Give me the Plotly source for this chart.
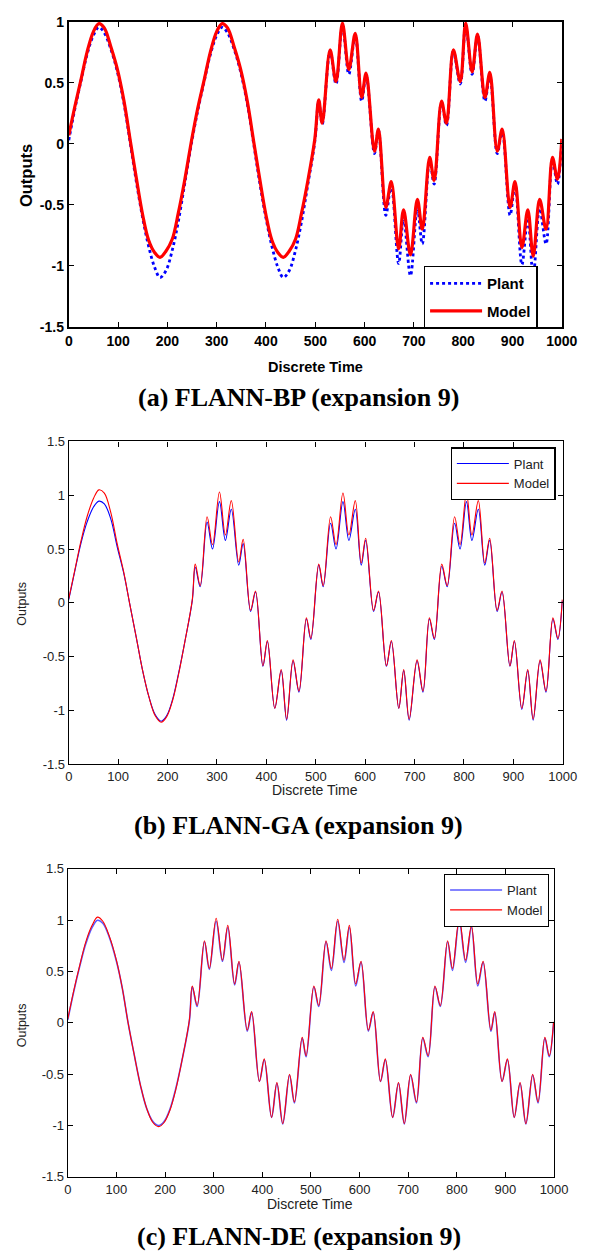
import plotly.graph_objects as go

# ---------------- data ----------------
t_bp = [0, 12, 25, 37, 50, 61, 72, 85, 98, 112, 125, 137, 150, 162, 174, 185, 197, 210, 222, 235,
        250, 262, 275, 287, 300, 311, 322, 335, 348, 362, 375, 387, 400, 412, 424, 435, 447, 460, 472, 485,
        499, 507, 514, 530, 542, 555, 568, 581, 594, 603, 620, 628, 643, 654, 669, 679, 693, 707, 717, 732,
        741, 756, 766, 780, 794, 805, 818, 829, 844, 854, 869, 879, 895, 905, 919, 931, 942, 955, 968, 981,
        991, 1000]
plant_bp = [0.03, 0.28, 0.52, 0.73, 0.89, 0.955, 0.91, 0.78, 0.60, 0.33, 0.0, -0.31, -0.61, -0.84, -1.01, -1.095, -1.04, -0.87, -0.64, -0.33,
            0.03, 0.28, 0.52, 0.73, 0.89, 0.955, 0.91, 0.78, 0.60, 0.33, 0.0, -0.31, -0.61, -0.84, -1.01, -1.095, -1.04, -0.87, -0.64, -0.33,
            0.02, 0.35, 0.16, 0.76, 0.49, 0.97, 0.57, 0.89, 0.35, 0.56, -0.08, 0.11, -0.585, -0.34, -0.98, -0.61, -1.08, -0.53, -0.82, -0.13,
            -0.33, 0.34, 0.15, 0.76, 0.49, 0.97, 0.57, 0.89, 0.35, 0.56, -0.08, 0.11, -0.585, -0.34, -0.99, -0.61, -1.08, -0.53, -0.82, -0.13,
            -0.33, 0.02]
model_bp = [0.07, 0.30, 0.53, 0.75, 0.92, 0.985, 0.95, 0.80, 0.62, 0.35, 0.02, -0.28, -0.585, -0.79, -0.89, -0.93, -0.88, -0.78, -0.57, -0.30,
            0.05, 0.30, 0.53, 0.75, 0.92, 0.985, 0.95, 0.80, 0.62, 0.35, 0.02, -0.28, -0.585, -0.79, -0.89, -0.93, -0.88, -0.78, -0.57, -0.30,
            0.04, 0.36, 0.17, 0.77, 0.51, 0.99, 0.61, 0.905, 0.38, 0.58, -0.06, 0.12, -0.52, -0.31, -0.86, -0.54, -0.91, -0.455, -0.70, -0.11,
            -0.30, 0.35, 0.17, 0.77, 0.51, 0.99, 0.59, 0.90, 0.38, 0.585, -0.06, 0.12, -0.52, -0.31, -0.85, -0.54, -0.92, -0.455, -0.70, -0.11,
            -0.29, 0.04]

t_ga = [0, 12, 25, 37, 50, 61, 72, 85, 98, 112, 123, 137, 150, 162, 175, 187, 198, 210, 222, 235, 250,
        256, 266, 280, 291, 305, 317, 329, 344, 353, 368, 378, 393, 402, 417, 430, 441, 454, 466, 481, 490,
        506, 515, 530, 541, 555, 567, 580, 592, 601, 617, 627, 643, 653, 668, 678, 689, 705, 717, 730, 740,
        755, 766, 781, 792, 805, 816, 829, 842, 852, 867, 877, 893, 902, 917, 929, 940, 954, 966, 980, 990,
        999]
plant_ga = [0.03, 0.29, 0.56, 0.75, 0.89, 0.945, 0.92, 0.78, 0.52, 0.26, 0.0, -0.33, -0.64, -0.87, -1.04, -1.10, -1.05, -0.90, -0.66, -0.36, 0.02,
            0.33, 0.15, 0.75, 0.50, 0.94, 0.58, 0.87, 0.35, 0.55, -0.08, 0.10, -0.59, -0.36, -0.98, -0.63, -1.09, -0.54, -0.83, -0.15, -0.34,
            0.35, 0.15, 0.74, 0.50, 0.94, 0.58, 0.87, 0.35, 0.58, -0.08, 0.10, -0.59, -0.36, -0.98, -0.63, -1.09, -0.54, -0.83, -0.15, -0.34,
            0.34, 0.15, 0.74, 0.50, 0.94, 0.58, 0.87, 0.35, 0.58, -0.08, 0.10, -0.59, -0.36, -0.99, -0.63, -1.09, -0.54, -0.83, -0.15, -0.34,
            0.02]
model_ga = [0.04, 0.30, 0.58, 0.80, 0.97, 1.05, 1.02, 0.84, 0.55, 0.27, 0.0, -0.33, -0.64, -0.87, -1.05, -1.11, -1.06, -0.91, -0.67, -0.36, 0.03,
            0.36, 0.16, 0.80, 0.54, 1.03, 0.63, 0.95, 0.38, 0.59, -0.07, 0.11, -0.585, -0.35, -0.98, -0.62, -1.08, -0.53, -0.82, -0.14, -0.33,
            0.36, 0.16, 0.80, 0.54, 1.02, 0.63, 0.95, 0.37, 0.60, -0.07, 0.11, -0.585, -0.35, -0.98, -0.62, -1.08, -0.53, -0.82, -0.14, -0.33,
            0.36, 0.16, 0.80, 0.54, 1.02, 0.63, 0.95, 0.37, 0.60, -0.07, 0.11, -0.585, -0.35, -0.98, -0.62, -1.08, -0.53, -0.82, -0.14, -0.33,
            0.03]

t_de = [0, 12, 25, 37, 50, 61, 72, 85, 100, 112, 124, 137, 150, 162, 175, 187, 198, 210, 222, 235, 250,
        256, 266, 281, 291, 305, 318, 329, 343, 352, 369, 378, 394, 404, 419, 430, 442, 456, 466, 482, 490,
        506, 516, 531, 542, 555, 568, 579, 592, 603, 618, 628, 643, 653, 668, 680, 692, 705, 717, 730, 741,
        755, 766, 781, 791, 805, 818, 830, 843, 854, 870, 878, 893, 904, 918, 930, 942, 956, 967, 981, 990,
        999]
plant_de = [0.03, 0.30, 0.56, 0.77, 0.93, 1.0, 0.97, 0.84, 0.60, 0.34, 0.0, -0.32, -0.62, -0.83, -0.96, -1.0, -0.96, -0.84, -0.64, -0.36, 0.02,
            0.35, 0.16, 0.79, 0.52, 0.99, 0.60, 0.93, 0.37, 0.59, -0.08, 0.10, -0.57, -0.36, -0.92, -0.59, -0.985, -0.51, -0.78, -0.15, -0.33,
            0.35, 0.16, 0.79, 0.51, 0.99, 0.59, 0.93, 0.36, 0.59, -0.08, 0.10, -0.57, -0.36, -0.92, -0.59, -0.985, -0.51, -0.78, -0.15, -0.33,
            0.35, 0.16, 0.79, 0.51, 0.99, 0.59, 0.93, 0.36, 0.59, -0.08, 0.10, -0.57, -0.36, -0.92, -0.59, -0.985, -0.51, -0.78, -0.15, -0.33,
            0.0]
model_de = [0.04, 0.31, 0.57, 0.79, 0.95, 1.03, 0.99, 0.85, 0.61, 0.34, 0.0, -0.32, -0.62, -0.83, -0.97, -1.01, -0.97, -0.85, -0.65, -0.36, 0.03,
            0.36, 0.17, 0.80, 0.53, 1.02, 0.61, 0.95, 0.38, 0.60, -0.07, 0.11, -0.57, -0.35, -0.92, -0.58, -0.98, -0.50, -0.77, -0.14, -0.32,
            0.36, 0.17, 0.80, 0.53, 1.01, 0.61, 0.95, 0.38, 0.60, -0.07, 0.11, -0.57, -0.35, -0.92, -0.58, -0.98, -0.50, -0.77, -0.14, -0.32,
            0.36, 0.17, 0.80, 0.53, 1.02, 0.61, 0.95, 0.38, 0.60, -0.07, 0.11, -0.57, -0.35, -0.92, -0.58, -0.98, -0.50, -0.77, -0.14, -0.32,
            0.01]

x_ticks = [0, 100, 200, 300, 400, 500, 600, 700, 800, 900, 1000]
x_ticktext = ["0", "100", "200", "300", "400", "500", "600", "700", "800", "900", "1000"]
y_ticks_a = [-1.5, -1, -0.5, 0, 0.5, 1]
y_ticktext_a = ["-1.5", "-1", "-0.5", "0", "0.5", "1"]
y_ticks_bc = [-1.5, -1, -0.5, 0, 0.5, 1, 1.5]
y_ticktext_bc = ["-1.5", "-1", "-0.5", "0", "0.5", "1", "1.5"]
titles = ["(a) FLANN-BP (expansion 9)", "(b) FLANN-GA (expansion 9)", "(c) FLANN-DE (expansion 9)"]
series_names = ["Plant", "Model"]

# ---------------- figure ----------------
W, H = 602, 1257
ARIAL = "Liberation Sans, Arial, sans-serif"
SERIF = "Liberation Serif, Times New Roman, serif"

def px(xp):
    return xp / W

def py(yp):
    return 1 - yp / H

fig = go.Figure()

# Panel (a)
fig.add_trace(go.Scatter(x=t_bp, y=plant_bp, mode="lines", name=series_names[0],
                         line=dict(color="#0000ff", width=2.8, dash="dot", shape="spline"),
                         xaxis="x", yaxis="y", legend="legend", legendgroup="a_p"))
fig.add_trace(go.Scatter(x=t_bp, y=model_bp, mode="lines", name=series_names[1],
                         line=dict(color="#ff0000", width=3.2, shape="spline"),
                         xaxis="x", yaxis="y", legend="legend", legendgroup="a_m"))
# Panel (b)
fig.add_trace(go.Scatter(x=t_ga, y=plant_ga, mode="lines", name=series_names[0],
                         line=dict(color="#0000ff", width=1.1, shape="spline"),
                         xaxis="x2", yaxis="y2", legend="legend2", legendgroup="b_p"))
fig.add_trace(go.Scatter(x=t_ga, y=model_ga, mode="lines", name=series_names[1],
                         line=dict(color="#ff0000", width=1.1, shape="spline"),
                         xaxis="x2", yaxis="y2", legend="legend2", legendgroup="b_m"))
# Panel (c)
fig.add_trace(go.Scatter(x=t_de, y=plant_de, mode="lines", name=series_names[0],
                         line=dict(color="#5a5aff", width=1.6, shape="spline"),
                         xaxis="x3", yaxis="y3", legend="legend3", legendgroup="c_p"))
fig.add_trace(go.Scatter(x=t_de, y=model_de, mode="lines", name=series_names[1],
                         line=dict(color="#ff0000", width=1.1, shape="spline"),
                         xaxis="x3", yaxis="y3", legend="legend3", legendgroup="c_m"))

def xaxis(domain, anchor, font, lw):
    return dict(domain=domain, anchor=anchor, range=[0, 1000], tickmode="array",
                tickvals=x_ticks, ticktext=x_ticktext, ticks="inside", ticklen=5,
                tickwidth=1, tickcolor="black", showline=True, linecolor="black",
                linewidth=lw, mirror="ticks", showgrid=False, zeroline=False,
                tickfont=font, fixedrange=True)

def yaxis(domain, anchor, rng, vals, texts, font, lw):
    return dict(domain=domain, anchor=anchor, range=rng, tickmode="array",
                tickvals=vals, ticktext=texts, ticks="inside", ticklen=5,
                tickwidth=1, tickcolor="black", showline=True, linecolor="black",
                linewidth=lw, mirror="ticks", showgrid=False, zeroline=False,
                tickfont=font, fixedrange=True)

bold_font = dict(family=ARIAL, size=14, color="black", weight="bold")
reg_font = dict(family=ARIAL, size=13, color="#222222")

fig.update_layout(
    width=W, height=H,
    margin=dict(l=0, r=0, t=0, b=0),
    paper_bgcolor="white", plot_bgcolor="white",
    showlegend=True,
    xaxis=xaxis([px(67), px(577)], "y", bold_font, 2),
    yaxis=yaxis([py(323), py(14)], "x", [-1.5, 1], y_ticks_a, y_ticktext_a, bold_font, 2),
    xaxis2=xaxis([px(67), px(578)], "y2", reg_font, 1.2),
    yaxis2=yaxis([py(766), py(439)], "x2", [-1.5, 1.5], y_ticks_bc, y_ticktext_bc, reg_font, 1.2),
    xaxis3=xaxis([px(66), px(569)], "y3", reg_font, 1.2),
    yaxis3=yaxis([py(1184), py(872)], "x3", [-1.5, 1.5], y_ticks_bc, y_ticktext_bc, reg_font, 1.2),
    legend=dict(x=px(434), y=py(261), xanchor="left", yanchor="top",
                bgcolor="white", bordercolor="black", borderwidth=1.5,
                itemwidth=52, tracegroupgap=5,
                font=dict(family=ARIAL, size=15, color="black", weight="bold")),
    legend2=dict(x=px(462), y=py(445), xanchor="left", yanchor="top",
                 bgcolor="white", bordercolor="black", borderwidth=1.2,
                 itemwidth=52, tracegroupgap=0,
                 font=dict(family=ARIAL, size=13, color="#222222")),
    legend3=dict(x=px(455), y=py(877), xanchor="left", yanchor="top",
                 bgcolor="white", bordercolor="black", borderwidth=1.2,
                 itemwidth=52, tracegroupgap=0,
                 font=dict(family=ARIAL, size=13, color="#222222")),
)

def ann(text, xp, yp, font, angle=0):
    return dict(text=text, x=px(xp), y=py(yp), xref="paper", yref="paper",
                showarrow=False, textangle=angle, xanchor="center", yanchor="middle",
                font=font)

annotations = [
    ann("Outputs", 23, 170, dict(family=ARIAL, size=16.5, color="black", weight="bold"), -90),
    ann("Discrete Time", 322, 364, dict(family=ARIAL, size=14.5, color="black", weight="bold")),
    ann("Outputs", 19, 603, dict(family=ARIAL, size=12.5, color="#222222"), -90),
    ann("Discrete Time", 322, 792, dict(family=ARIAL, size=14, color="#222222")),
    ann("Outputs", 19, 1030, dict(family=ARIAL, size=12.5, color="#222222"), -90),
    ann("Discrete Time", 317, 1211, dict(family=ARIAL, size=14, color="#222222")),
]
for ttl, yc in zip(titles, [395, 828, 1244]):
    annotations.append(ann(ttl, 305, yc, dict(family=SERIF, size=26, color="black", weight="bold")))
fig.update_layout(annotations=annotations)

fig.write_html("out.html")
